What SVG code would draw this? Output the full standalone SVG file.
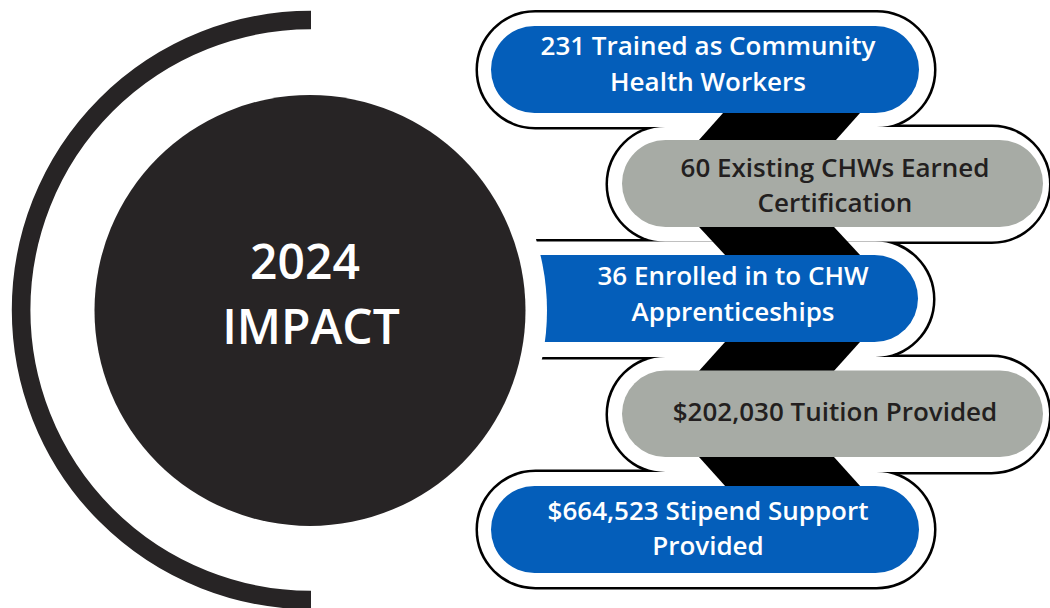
<svg xmlns="http://www.w3.org/2000/svg" width="1050" height="608" viewBox="0 0 1050 608">
<style>
.frame{fill:none;stroke:#000;stroke-width:5}
.fill{fill:#fff}
.blue{fill:#045EBA}
.gray{fill:#A7ABA5}
.band{fill:#000}
.t{font-family:"Open Sans","Liberation Sans",sans-serif;font-weight:600;font-size:26px;text-anchor:middle}
.tw{fill:#fff}
.td{fill:#231F20}
.big{font-family:"Open Sans","Liberation Sans",sans-serif;font-weight:600;font-size:48px;fill:#fff;text-anchor:middle}
</style>
<rect width="1050" height="608" fill="#fff"/>
<g id="frame">
<rect class="frame" x="478" y="12.5" width="456" height="114.5" rx="57.25"/>
<rect class="frame" x="608" y="127" width="441" height="114.5" rx="57.25"/>
<rect class="frame" x="460" y="241.5" width="473" height="115.5" rx="57.75"/>
<rect class="frame" x="608" y="357" width="441" height="115" rx="57.5"/>
<rect class="frame" x="478" y="472" width="456" height="115" rx="57.5"/>
<rect class="fill" x="478" y="12.5" width="456" height="114.5" rx="57.25"/>
<rect class="fill" x="608" y="127" width="441" height="114.5" rx="57.25"/>
<rect class="fill" x="460" y="241.5" width="473" height="115.5" rx="57.75"/>
<rect class="fill" x="608" y="357" width="441" height="115" rx="57.5"/>
<rect class="fill" x="478" y="472" width="456" height="115" rx="57.5"/>
</g>
<g id="connectors">
<polygon class="band" points="727.5,108 864.5,108 831.5,145 694.5,145"/>
<polygon class="band" points="694.4,222 829.4,222 864.7,260 729.7,260"/>
<polygon class="band" points="729.5,337 864.5,337 829.4,376 694.4,376"/>
<polygon class="band" points="694.5,452 829.5,452 864.6,491 729.6,491"/>
</g>
<g id="node1">
<rect class="blue" x="491" y="26" width="428" height="87" rx="43.5"/>
<text class="t tw" x="708" y="55">231 Trained as Community</text>
<text class="t tw" x="708" y="90.5">Health Workers</text>
</g>
<g id="node2">
<rect class="gray" x="622" y="140" width="421" height="87" rx="43.5"/>
<text class="t td" x="835" y="177">60 Existing CHWs Earned</text>
<text class="t td" x="835" y="212">Certification</text>
</g>
<g id="node3">
<rect class="blue" x="470" y="255" width="448" height="87" rx="43.5"/>
<text class="t tw" x="733" y="285">36 Enrolled in to CHW</text>
<text class="t tw" x="733" y="320.5">Apprenticeships</text>
</g>
<g id="node4">
<rect class="gray" x="622" y="370.5" width="421" height="86.5" rx="43.25"/>
<text class="t td" x="835" y="421">$202,030 Tuition Provided</text>
</g>
<g id="node5">
<rect class="blue" x="491" y="486" width="428" height="87" rx="43.5"/>
<text class="t tw" x="708" y="520">$664,523 Stipend Support</text>
<text class="t tw" x="708" y="555">Provided</text>
</g>
<g id="impact">
<circle cx="310" cy="310.5" r="237" fill="#fff"/>
<path d="M311 20 A290 290 0 0 0 311 600" fill="none" stroke="#272425" stroke-width="18.6"/>
<circle cx="310" cy="310.5" r="215.5" fill="#272425"/>
<text class="big" x="305" y="279">2024</text>
<text class="big" x="311" y="344">IMPACT</text>
</g>
</svg>
